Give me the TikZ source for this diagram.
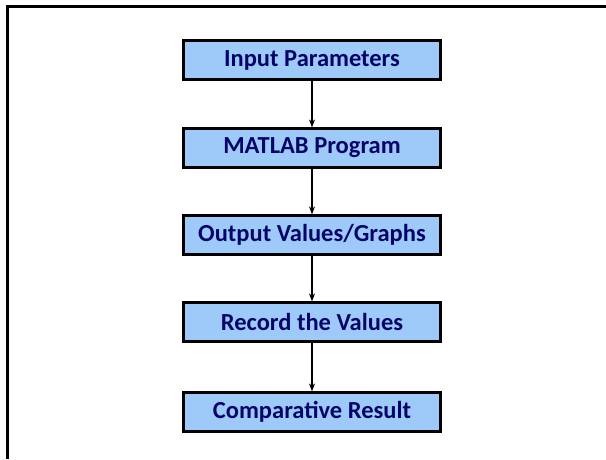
\documentclass[tikz,border=0pt]{standalone}
\usepackage{fontspec}
\setmainfont{Carlito}
\usetikzlibrary{positioning, arrows.meta}
\definecolor{boxblue}{RGB}{158,202,250}
\definecolor{textnavy}{RGB}{5,5,105}
\begin{document}
\begin{tikzpicture}[x=1pt, y=-1pt,
    stage/.style={rectangle, draw=black, line width=2.2pt, fill=boxblue,
        minimum width=257pt, minimum height=39pt, inner sep=0pt,
        text=textnavy, font=\fontsize{24.5}{28}\selectfont\bfseries},
    flow/.style={-{Stealth[length=8pt, width=6pt]}, line width=1.8pt}]
    \useasboundingbox (0,0) rectangle (606,459);

    % Frame (right and bottom cut off)
    \draw[line width=2.5pt] (7.5,459) -- (7.5,6.5) -- (606,6.5);

    % Stages
    \node[stage] (S1) at (312,60) {Input Parameters};
    \node[stage] (S2) at (312,148) {MATLAB Program};
    \node[stage] (S3) at (312,235) {Output Values/Graphs};
    \node[stage] (S4) at (312,322) {Record the Values};
    \node[stage] (S5) at (312,412) {Comparative Result};

    % Connect stages
    \foreach \i [evaluate=\i as \j using int(\i+1)] in {1,...,4} {
        \draw[flow] (S\i) -- (S\j);
    }
\end{tikzpicture}
\end{document}
